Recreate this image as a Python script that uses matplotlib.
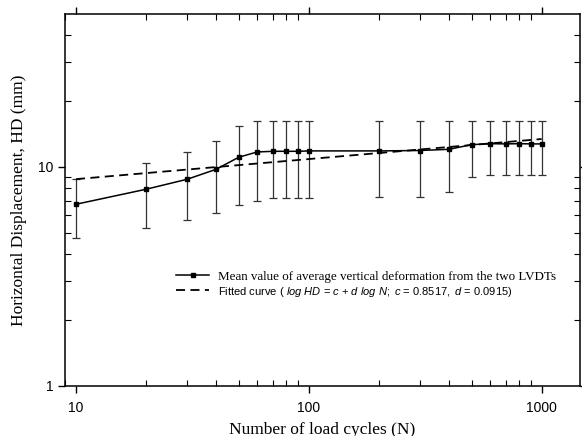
import numpy as np
import matplotlib.pyplot as plt

# data
cycles = [10, 20, 30, 40, 50, 60, 70, 80, 90, 100, 200, 300, 400, 500, 600, 700, 800, 900, 1000]
hd_mean = [6.74, 7.89, 8.76, 9.73, 11.04, 11.67, 11.75, 11.75, 11.75, 11.8, 11.8, 11.85, 12.0, 12.6, 12.73, 12.7, 12.73, 12.7, 12.7]
hd_upper = [8.76, 10.43, 11.7, 13.14, 15.38, 16.2, 16.2, 16.2, 16.2, 16.2, 16.2, 16.2, 16.2, 16.2, 16.2, 16.2, 16.2, 16.2, 16.2]
hd_lower = [4.75, 5.27, 5.7, 6.17, 6.67, 7.0, 7.18, 7.18, 7.18, 7.18, 7.25, 7.3, 7.69, 8.95, 9.17, 9.17, 9.17, 9.17, 9.17]

# fitted curve: log HD = c + d log N
c = 0.8517
d = 0.0915
fit_n = [10, 1000]

plt.rcParams['mathtext.fontset'] = 'custom'
plt.rcParams['mathtext.rm'] = 'Liberation Sans'
plt.rcParams['mathtext.it'] = 'Liberation Sans:italic'

fig = plt.figure(figsize=(5.82, 4.36), dpi=100)
ax = fig.add_axes([0.1117, 0.1147, 0.8848, 0.8533])

n = np.array(cycles)
m = np.array(hd_mean)
yerr = [m - np.array(hd_lower), np.array(hd_upper) - m]

ax.errorbar(n, m, yerr=yerr, fmt='none', ecolor='#333333', elinewidth=0.9,
            capsize=3, capthick=0.9)
ax.plot(n, m, color='black', lw=1.1, marker='s', ms=3.5,
        label='Mean value of average vertical deformation from the two LVDTs')
fn = np.array(fit_n, dtype=float)
fit_label = (r'Fitted curve ( $\mathit{log\ HD}$ = $\mathit{c}$ + '
             r'$\mathit{d\ log\ N;}$ $\mathit{c}$ = $\mathit{0.8517,}$ '
             r'$\mathit{d}$ = $\mathit{0.0915}$)')
ax.plot(fn, 10 ** (c + d * np.log10(fn)), color='black', lw=1.3, ls=(0, (5, 3)),
        label=fit_label)

ax.set_xscale('log')
ax.set_yscale('log')
ax.set_xlim(8.97, 1461)
ax.set_ylim(1, 49.7)

ax.set_xticks([10, 100, 1000])
ax.set_xticklabels(['10', '100', '1000'])
ax.set_yticks([1, 10])
ax.set_yticklabels(['1', '10'])
for lab in ax.get_xticklabels() + ax.get_yticklabels():
    lab.set_family('Liberation Sans')
    lab.set_fontsize(10)

ax.tick_params(which='major', direction='out', length=5, width=1, top=True, right=True)
ax.tick_params(which='minor', direction='in', length=4, width=0.8, top=True, right=True,
               labelbottom=False, labelleft=False)
ax.tick_params(axis='x', which='major', pad=5.5)
for s in ax.spines.values():
    s.set_linewidth(1.1)

ax.set_xlabel('Number of load cycles (N)', family='Liberation Serif', fontsize=12.5, labelpad=5)
ax.set_ylabel('Horizontal Displacement, HD (mm)', family='Liberation Serif', fontsize=12.5, labelpad=8)

leg = ax.legend(loc='upper left', bbox_to_anchor=(0.205, 0.325), frameon=False,
                handlelength=2.4, handletextpad=0.6, labelspacing=0.1, borderaxespad=0)
texts = leg.get_texts()
texts[0].set_family('Liberation Serif')
texts[0].set_fontsize(9.4)
texts[1].set_family('Liberation Sans')
texts[1].set_fontsize(8)

fig.savefig('out.png', dpi=100)
